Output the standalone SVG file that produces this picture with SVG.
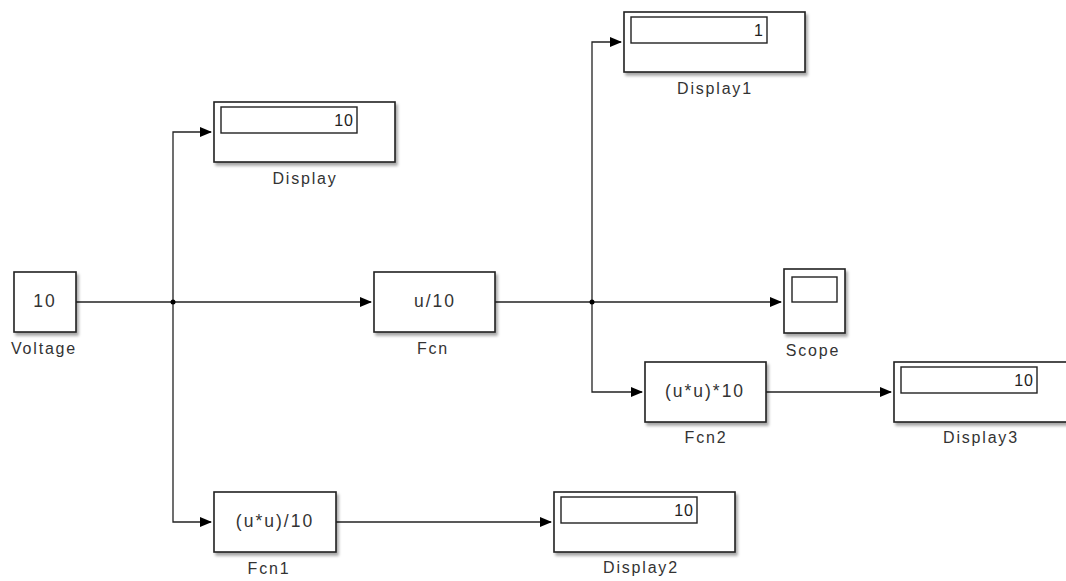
<svg xmlns="http://www.w3.org/2000/svg" width="1066" height="581" viewBox="0 0 1066 581">
<defs>
<filter id="sh" x="-10%" y="-10%" width="130%" height="140%">
<feGaussianBlur in="SourceAlpha" stdDeviation="1.5"/>
<feOffset dx="2" dy="3" result="b"/>
<feComponentTransfer><feFuncA type="linear" slope="0.35"/></feComponentTransfer>
<feMerge><feMergeNode/><feMergeNode in="SourceGraphic"/></feMerge>
</filter>
<marker id="ah" markerWidth="12" markerHeight="10" refX="11" refY="5" orient="auto" markerUnits="userSpaceOnUse">
<path d="M0,0 L12,5 L0,10 Z" fill="#000"/>
</marker>
</defs>
<style>
.blk{fill:#fff;stroke:#222;stroke-width:1.6;filter:url(#sh)}
.in{fill:#fff;stroke:#222;stroke-width:1.4}
.t{font-family:"Liberation Sans",Arial,sans-serif;font-size:16px;fill:#222;letter-spacing:1px}
.bt{font-family:"Liberation Sans",Arial,sans-serif;font-size:17.5px;fill:#333;text-anchor:middle;letter-spacing:2px}
.lbl{font-family:"Liberation Sans",Arial,sans-serif;font-size:16px;fill:#333;text-anchor:middle;letter-spacing:1.8px}
.c{stroke:#222;stroke-width:1.3;fill:none}
</style>
<rect width="1066" height="581" fill="#fff"/>
<g id="connectors">
<path class="c" d="M76,302 H371" marker-end="url(#ah)"/>
<path class="c" d="M173,302 V132 H211" marker-end="url(#ah)"/>
<path class="c" d="M173,302 V522 H211" marker-end="url(#ah)"/>
<path class="c" d="M495,302 H781" marker-end="url(#ah)"/>
<path class="c" d="M592,302 V42 H621" marker-end="url(#ah)"/>
<path class="c" d="M592,302 V392 H642" marker-end="url(#ah)"/>
<path class="c" d="M766,392 H891" marker-end="url(#ah)"/>
<path class="c" d="M336,522 H551" marker-end="url(#ah)"/>
<circle cx="173" cy="302" r="2.5" fill="#000"/>
<circle cx="592" cy="302" r="2.5" fill="#000"/>
</g>
<g id="voltage">
<rect class="blk" x="14" y="272" width="62" height="60"/>
<text class="bt" x="45" y="307">10</text>
<text class="lbl" x="44" y="354">Voltage</text>
</g>
<g id="display">
<rect class="blk" x="214" y="102" width="181" height="60"/>
<rect class="in" x="221" y="107" width="136" height="26"/>
<text class="t" x="354" y="126" text-anchor="end">10</text>
<text class="lbl" x="305" y="184">Display</text>
</g>
<g id="display1">
<rect class="blk" x="624" y="12" width="181" height="60"/>
<rect class="in" x="631" y="17" width="136" height="26"/>
<text class="t" x="764" y="36" text-anchor="end">1</text>
<text class="lbl" x="715" y="94">Display1</text>
</g>
<g id="fcn">
<rect class="blk" x="374" y="272" width="121" height="60"/>
<text class="bt" x="435" y="307">u/10</text>
<text class="lbl" x="433" y="354">Fcn</text>
</g>
<g id="scope">
<rect class="blk" x="784" y="269" width="61" height="64"/>
<rect class="in" x="792" y="277" width="45" height="25"/>
<text class="lbl" x="813" y="356">Scope</text>
</g>
<g id="fcn2">
<rect class="blk" x="645" y="362" width="121" height="60"/>
<text class="bt" x="705" y="397">(u*u)*10</text>
<text class="lbl" x="706" y="443">Fcn2</text>
</g>
<g id="display3">
<rect class="blk" x="894" y="362" width="181" height="60"/>
<rect class="in" x="901" y="367" width="136" height="26"/>
<text class="t" x="1034" y="386" text-anchor="end">10</text>
<text class="lbl" x="981" y="443">Display3</text>
</g>
<g id="fcn1">
<rect class="blk" x="214" y="492" width="122" height="60"/>
<text class="bt" x="275" y="527">(u*u)/10</text>
<text class="lbl" x="269" y="574">Fcn1</text>
</g>
<g id="display2">
<rect class="blk" x="554" y="492" width="181" height="60"/>
<rect class="in" x="561" y="497" width="136" height="26"/>
<text class="t" x="694" y="516" text-anchor="end">10</text>
<text class="lbl" x="641" y="573">Display2</text>
</g>
</svg>
